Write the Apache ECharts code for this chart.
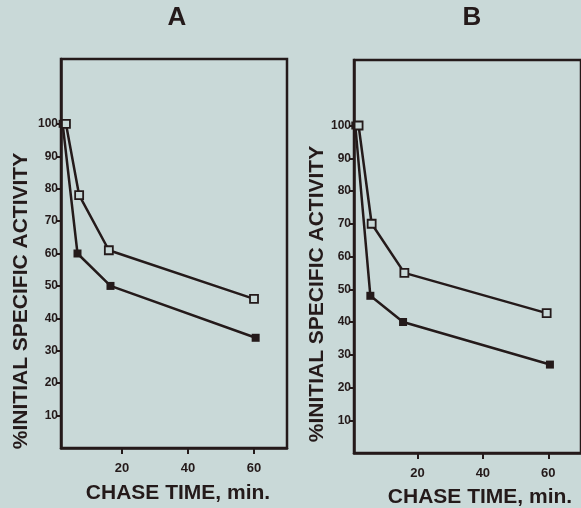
<!DOCTYPE html>
<html>
<head>
<meta charset="utf-8">
<style>
html, body { margin: 0; padding: 0; background: #c9d9d8; }
#chart { width: 581px; height: 508px; }
</style>
<script src="https://cdn.jsdelivr.net/npm/echarts@6/dist/echarts.min.js"></script>
</head>
<body>
<div id="chart"></div>
<script>
// chase time (min) and % initial specific activity
var openA = [[3, 100], [7, 78], [16, 61], [60, 46]];
var filledA = [[2, 100], [6.5, 60], [16.5, 50], [60.5, 34]];
var openB = [[2, 100], [6, 70], [16, 55], [59.5, 42.7]];
var filledB = [[1, 100], [5.6, 48], [15.6, 40], [60.5, 27]];
var xTicks = [20, 40, 60];
var yTicks = [10, 20, 30, 40, 50, 60, 70, 80, 90, 100];

var ink = '#241a1a';
var paper = '#c9d9d8';
var font = 'Liberation Sans';

function xAxis(idx, min) {
    return {
        type: 'value', gridIndex: idx, min: min, max: 70,
        axisLine: { lineStyle: { color: ink, width: 2.5 } },
        axisTick: { show: true, length: 6, customValues: xTicks, lineStyle: { color: ink, width: 2 } },
        axisLabel: { customValues: xTicks, color: ink, fontSize: 13, fontWeight: 'bold', fontFamily: font, margin: 14 },
        splitLine: { show: false }
    };
}

function yAxis(idx) {
    return {
        type: 'value', gridIndex: idx, min: 0, max: 120,
        axisLine: { show: true, lineStyle: { color: ink, width: 2.5 } },
        axisTick: { show: true, length: 5, customValues: yTicks, lineStyle: { color: ink, width: 2 } },
        axisLabel: { customValues: yTicks, color: ink, fontSize: 12, fontWeight: 'bold', fontFamily: font, margin: 3 },
        splitLine: { show: false }
    };
}

function line(idx, data, filled) {
    return {
        type: 'line', xAxisIndex: idx, yAxisIndex: idx, data: data,
        symbol: 'rect', symbolSize: 8, showSymbol: true,
        lineStyle: { color: ink, width: 2.5 },
        itemStyle: filled ? { color: ink } : { color: paper, borderColor: ink, borderWidth: 1.8 },
        z: filled ? 3 : 4,
        animation: false
    };
}

function label(text, x, y, size, rot) {
    return {
        type: 'text', x: x, y: y, rotation: rot || 0,
        style: { text: text, fill: ink, font: 'bold ' + size + 'px "' + font + '"', textAlign: 'center', textVerticalAlign: 'middle' }
    };
}

var chart = echarts.init(document.getElementById('chart'));
chart.setOption({
    backgroundColor: paper,
    animation: false,
    grid: [
        { left: 61, top: 59, width: 226, height: 389, show: true, borderColor: ink, borderWidth: 2.5 },
        { left: 354, top: 60, width: 231, height: 393, show: true, borderColor: ink, borderWidth: 2.5 }
    ],
    xAxis: [xAxis(0, 1.5), xAxis(1, 0.6)],
    yAxis: [yAxis(0), yAxis(1)],
    series: [
        line(0, openA, false),
        line(0, filledA, true),
        line(1, openB, false),
        line(1, filledB, true)
    ],
    graphic: [
        label('A', 177, 18, 26),
        label('B', 472, 18, 26),
        label('%INITIAL SPECIFIC ACTIVITY', 21, 301, 21, Math.PI / 2),
        label('%INITIAL SPECIFIC ACTIVITY', 317, 294, 21, Math.PI / 2),
        label('CHASE TIME, min.', 178, 493, 21),
        label('CHASE TIME, min.', 480, 497, 21)
    ]
});
</script>
</body>
</html>
